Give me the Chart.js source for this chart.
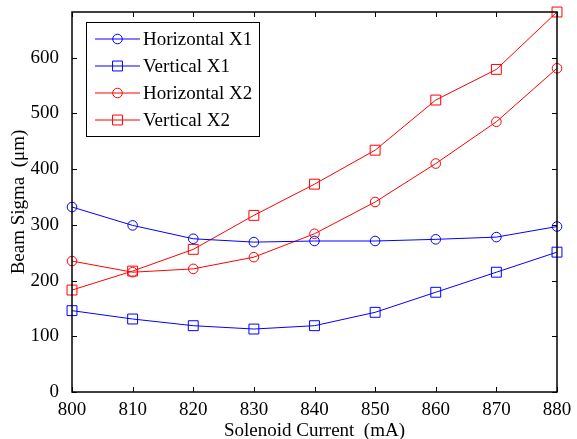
<!DOCTYPE html>
<html>
<head>
<meta charset="utf-8">
<script src="https://cdn.jsdelivr.net/npm/chart.js@4/dist/chart.umd.min.js"></script>
<style>
  html, body { margin: 0; padding: 0; background: #fff; }
  #wrap { width: 577px; height: 439px; }
</style>
</head>
<body>
<div id="wrap"><canvas id="beam-chart" width="577" height="439"></canvas></div>
<script>
// Values
const currents = [800, 810, 820, 830, 840, 850, 860, 870, 880];
const horizontalX1 = [332, 299, 275, 269, 271, 271, 274, 278, 297];
const verticalX1 = [146, 131, 119, 113, 119, 143, 179, 215, 251];
const horizontalX2 = [235, 215, 221, 242, 284, 341, 410, 485, 581];
const verticalX2 = [183, 217, 256, 317, 373, 434, 524, 579, 682];
const xTickLabels = [800, 810, 820, 830, 840, 850, 860, 870, 880];
const yTickLabels = [0, 100, 200, 300, 400, 500, 600];

const FONT = '"Liberation Serif", "Times New Roman", serif';

function series(label, values, color, style) {
  return {
    label: label,
    data: currents.map((c, i) => ({ x: c, y: values[i] })),
    borderColor: color,
    backgroundColor: 'rgba(0,0,0,0)',
    borderWidth: 1,
    pointStyle: style,
    pointRadius: style === 'rect' ? 7 : 4.8,
    pointBorderColor: color,
    pointBackgroundColor: 'rgba(0,0,0,0)',
    pointBorderWidth: 1,
    tension: 0,
    fill: false,
    clip: false
  };
}

const datasets = [
  series('Horizontal X1', horizontalX1, '#0000ff', 'circle'),
  series('Vertical X1', verticalX1, '#0000ff', 'rect'),
  series('Horizontal X2', horizontalX2, '#ff0000', 'circle'),
  series('Vertical X2', verticalX2, '#ff0000', 'rect')
];

// Box around the plot with inward ticks on all four sides (MATLAB style)
const boxPlugin = {
  id: 'matlabBox',
  afterDatasetsDraw(chart) {
    const ctx = chart.ctx;
    const a = chart.chartArea;
    const xs = chart.scales.x, ys = chart.scales.y;
    const len = 5;
    ctx.save();
    ctx.strokeStyle = '#000';
    ctx.lineWidth = 1.5;
    ctx.strokeRect(a.left, a.top, a.right - a.left, a.bottom - a.top);
    ctx.lineWidth = 1;
    ctx.beginPath();
    xTickLabels.forEach(v => {
      const px = Math.round(xs.getPixelForValue(v)) + 0.5;
      ctx.moveTo(px, a.bottom); ctx.lineTo(px, a.bottom - len);
      ctx.moveTo(px, a.top); ctx.lineTo(px, a.top + len);
    });
    yTickLabels.forEach(v => {
      const py = Math.round(ys.getPixelForValue(v)) + 0.5;
      ctx.moveTo(a.left, py); ctx.lineTo(a.left + len, py);
      ctx.moveTo(a.right, py); ctx.lineTo(a.right - len, py);
    });
    ctx.stroke();
    ctx.restore();
  },
  afterDraw(chart) {
    // legend with line + marker samples
    const ctx = chart.ctx;
    const a = chart.chartArea;
    const bx = a.left + 14, by = a.top + 10, bw = 173, bh = 114;
    ctx.save();
    ctx.fillStyle = '#fff';
    ctx.fillRect(bx, by, bw, bh);
    ctx.strokeStyle = '#000';
    ctx.lineWidth = 1;
    ctx.strokeRect(bx + 0.5, by + 0.5, bw, bh);
    ctx.font = '19px ' + FONT;
    ctx.textBaseline = 'middle';
    chart.data.datasets.forEach((ds, i) => {
      const y = by + 17 + i * 27;
      ctx.strokeStyle = ds.borderColor;
      ctx.lineWidth = 1;
      ctx.beginPath();
      ctx.moveTo(bx + 9, y); ctx.lineTo(bx + 54, y);
      ctx.stroke();
      ctx.fillStyle = 'rgba(0,0,0,0)';
      Chart.helpers.drawPoint(ctx, {
        pointStyle: ds.pointStyle, radius: ds.pointRadius, borderWidth: 1, rotation: 0
      }, bx + 31.5, y);
      ctx.fillStyle = '#000';
      ctx.fillText(ds.label, bx + 57, y + 1);
    });
    ctx.restore();
  }
};

new Chart(document.getElementById('beam-chart').getContext('2d'), {
  type: 'line',
  data: { datasets: datasets },
  options: {
    responsive: false,
    animation: false,
    devicePixelRatio: 1,
    layout: { padding: { left: 10, top: 12, right: 20, bottom: 0 } },
    plugins: { legend: { display: false }, tooltip: { enabled: false } },
    scales: {
      x: {
        type: 'linear',
        min: 800,
        max: 880,
        grid: { display: false },
        border: { display: false },
        afterBuildTicks: s => { s.ticks = xTickLabels.map(v => ({ value: v })); },
        afterFit: s => { s.height = 47; s.paddingLeft = 0; s.paddingRight = 0; },
        ticks: { color: '#000', font: { family: FONT, size: 19, lineHeight: 1 }, padding: 1, maxRotation: 0 },
        title: { display: true, text: 'Solenoid Current  (mA)', color: '#000',
                 font: { family: FONT, size: 19, lineHeight: 1 }, padding: { top: 0, bottom: -2 } }
      },
      y: {
        min: 0,
        max: 682,
        grid: { display: false },
        border: { display: false },
        afterBuildTicks: s => { s.ticks = yTickLabels.map(v => ({ value: v })); },
        afterFit: s => { s.width = 62; s.paddingTop = 0; s.paddingBottom = 0; },
        ticks: { color: '#000', font: { family: FONT, size: 19 }, padding: 5 },
        title: { display: true, text: 'Beam Sigma  (\u03bcm)', color: '#000',
                 font: { family: FONT, size: 19, lineHeight: 1 }, padding: { top: 0, bottom: 0 } }
      }
    }
  },
  plugins: [boxPlugin]
});
</script>
</body>
</html>
